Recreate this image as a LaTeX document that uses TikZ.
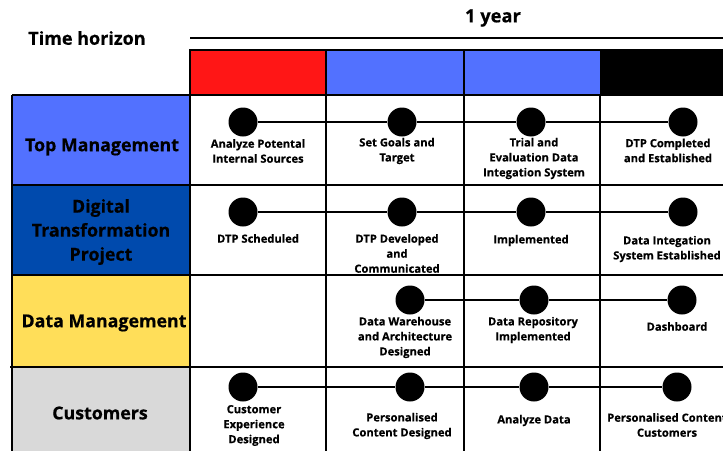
\documentclass[tikz,border=0pt]{standalone}
\usepackage{fontspec}
\setmainfont{Open Sans}[BoldFeatures={FakeBold=0.5}]
\definecolor{hred}{HTML}{FF1616}
\definecolor{hblue}{HTML}{5271FF}
\definecolor{dblue}{HTML}{004AAD}
\definecolor{hyellow}{HTML}{FFDE59}
\definecolor{hgray}{HTML}{D9D9D9}
\begin{document}
\begin{tikzpicture}[x=1pt,y=-1pt,
  grid/.style={line width=2.2pt},
  lbl/.style={font=\fontsize{17.8}{24}\selectfont\bfseries, align=center, inner sep=0},
  cell/.style={font=\fontsize{11.2}{15}\selectfont\bfseries, align=center, inner sep=0},
  dot/.style={circle, fill=black, minimum size=29pt, inner sep=0},
  link/.style={line width=2pt}]
\useasboundingbox (0,0) rectangle (723,450);
\clip (0,0) rectangle (723,450);
% header titles
\node[lbl, font=\fontsize{18}{20}\selectfont\bfseries] (th) at (87,38) {Time horizon};
\node[lbl, font=\fontsize{18.3}{20}\selectfont\bfseries] (yr) at (493,18) {1 year};
\coordinate (tl0) at (190,38);
\coordinate (tl1) at (730,38);
\draw[link] (tl0) -- (tl1);
% colour header
\fill[hred] (190,50) rectangle (326,95);
\fill[hblue] (326,50) rectangle (600,95);
\fill[black] (600,50) rectangle (730,95);
\draw[grid] (190,95) -- (190,50) -- (730,50);
\draw[grid] (326,50) -- (326,95) (464,50) -- (464,95);
% left column
\fill[hblue] (12,95) rectangle (190,185);
\fill[dblue] (12,185) rectangle (190,275);
\fill[hyellow] (12,275) rectangle (190,367);
\fill[hgray] (12,367) rectangle (190,460);
% grid
\foreach \y in {95,185,275,367} \draw[grid] (12,\y) -- (730,\y);
\draw[grid] (10,367) -- (12,367);
\foreach \x in {12,190,326,464,600} \draw[grid] (\x,95) -- (\x,460);
% row labels
\node[lbl] (r1) at (102,147) {Top Management};
\node[lbl] (r2) at (101,232) {Digital\\Transformation\\Project};
\node[lbl] (r3) at (104,323) {Data Management};
\node[lbl] (r4) at (100,413) {Customers};
% dots
\node[dot] (c11) at (243,122) {};
\node[dot] (c12) at (402,122) {};
\node[dot] (c13) at (531,122) {};
\node[dot] (c14) at (683,122) {};
\node[dot] (c21) at (243,212) {};
\node[dot] (c22) at (402,212) {};
\node[dot] (c23) at (531,212) {};
\node[dot] (c24) at (683,212) {};
\node[dot] (c32) at (410,300) {};
\node[dot] (c33) at (534,300) {};
\node[dot] (c34) at (682,300) {};
\node[dot] (c41) at (243,387) {};
\node[dot] (c42) at (410,387) {};
\node[dot] (c43) at (534,387) {};
\node[dot] (c44) at (677,387) {};
\draw[link] (c11) -- (c12) -- (c13) -- (c14);
\draw[link] (c21) -- (c22) -- (c23) -- (c24);
\draw[link] (c32) -- (c33) -- (c34);
\draw[link] (c41) -- (c42) -- (c43) -- (c44);
% cell texts
\node[cell] (t11) at (258,151) {Analyze Potental\\Internal Sources};
\node[cell] (t12) at (397,151) {Set Goals and\\Target};
\node[cell] (t13) at (534,158.5) {Trial and\\Evaluation Data\\Integation System};
\node[cell] (t14) at (668,150.5) {DTP Completed\\and Established};
\node[cell] (t21) at (258,238.5) {DTP Scheduled};
\node[cell] (t22) at (397,253.5) {DTP Developed\\and\\Communicated};
\node[cell] (t23) at (531,240.5) {Implemented};
\node[cell] (t24) at (667,249) {Data Integation\\System Established};
\node[cell] (t32) at (405,337.5) {Data Warehouse\\and Architecture\\Designed};
\node[cell] (t33) at (533,330) {Data Repository\\Implemented};
\node[cell] (t34) at (677,326.5) {Dashboard};
\node[cell] (t41) at (254,425.5) {Customer\\Experience\\Designed};
\node[cell] (t42) at (402,426) {Personalised\\Content Designed};
\node[cell] (t43) at (534,420.5) {Analyze Data};
\node[cell] (t44) at (667,425) {Personalised Content\\Customers};
\end{tikzpicture}
\end{document}
